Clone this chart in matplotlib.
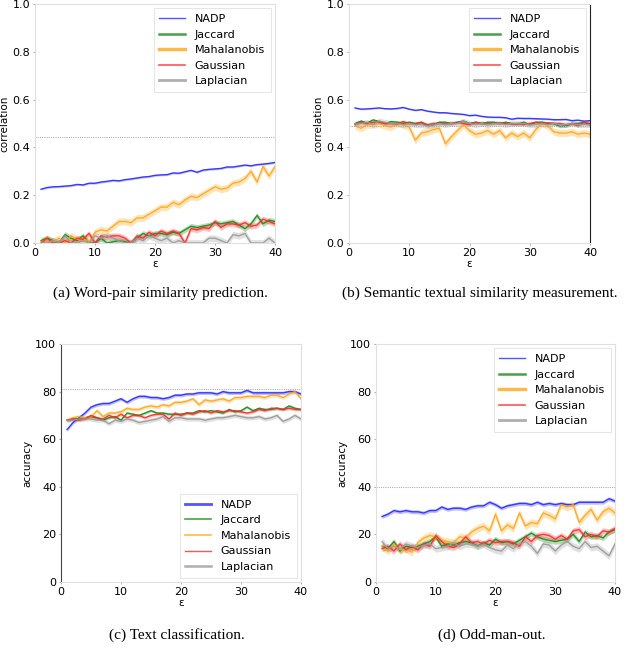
import numpy as np
import matplotlib
matplotlib.use("Agg")
import matplotlib.pyplot as plt
from matplotlib.lines import Line2D

eps = list(range(1, 41))
series_names = ["NADP", "Jaccard", "Mahalanobis", "Gaussian", "Laplacian"]
colors = ["#2a2aff", "#1a8a1a", "#ffa719", "#ff2a2a", "#9a9a9a"]

# (a) word-pair similarity
a_nadp = [.225, .232, .235, .236, .238, .240, .245, .243, .250, .250, .255, .258, .262, .260, .265, .268, .272, .276, .278, .283,
          .285, .286, .293, .292, .298, .304, .296, .305, .308, .310, .312, .318, .318, .322, .326, .323, .328, .330, .333, .337]
a_jac = [.010, .020, .010, .000, .035, .020, .010, .030, .000, .000, .020, .000, .005, .010, .005, .000, .020, .040, .030, .040,
         .040, .035, .045, .040, .055, .070, .065, .070, .075, .085, .080, .085, .090, .075, .060, .080, .115, .080, .095, .090]
a_mah = [.005, .015, .005, .020, .000, .030, .015, .020, .005, .045, .055, .050, .070, .090, .090, .085, .105, .105, .120, .135,
         .150, .150, .170, .160, .180, .195, .190, .205, .220, .235, .225, .230, .250, .255, .270, .300, .255, .320, .280, .320]
a_gau = [.000, .020, .000, .000, .010, .000, .020, .015, .040, .000, .030, .025, .030, .030, .020, .000, .030, .020, .045, .030,
         .050, .040, .050, .040, .000, .060, .055, .065, .060, .090, .065, .080, .080, .075, .085, .070, .075, .100, .090, .080]
a_lap = [.000, .000, .010, .000, .030, .000, .000, .010, .000, .030, .020, .030, .020, .010, .000, .000, .020, .010, .030, .020,
         .010, .020, .000, .010, .000, .000, .000, .000, .020, .020, .010, .000, .035, .030, .040, .000, .000, .000, .020, .000]
a_band = [0.004, 0.012, 0.015, 0.012, 0.014]
a_ref = 0.445

# (b) semantic textual similarity
b_nadp = [.565, .560, .561, .563, .565, .562, .561, .563, .567, .560, .555, .558, .552, .548, .545, .545, .542, .540, .538, .533,
          .535, .530, .527, .526, .526, .524, .518, .522, .521, .521, .520, .519, .518, .516, .516, .517, .512, .514, .510, .512]
b_jac = [.500, .510, .502, .515, .508, .500, .508, .505, .500, .505, .500, .505, .490, .495, .505, .505, .500, .505, .510, .500,
         .505, .500, .505, .505, .500, .505, .500, .498, .505, .495, .505, .505, .500, .500, .488, .490, .500, .500, .505, .495]
b_mah = [.490, .480, .495, .495, .500, .490, .485, .500, .495, .485, .430, .460, .465, .475, .480, .415, .445, .470, .495, .470,
         .455, .460, .470, .455, .470, .440, .460, .445, .460, .440, .475, .500, .490, .465, .460, .460, .465, .455, .460, .455]
b_gau = [.495, .505, .500, .505, .505, .500, .500, .498, .508, .500, .498, .505, .495, .500, .500, .498, .500, .505, .500, .495,
         .505, .500, .498, .500, .502, .500, .498, .500, .495, .500, .505, .500, .503, .500, .500, .495, .500, .490, .505, .500]
b_lap = [.498, .500, .505, .495, .510, .505, .500, .500, .495, .500, .495, .495, .490, .495, .500, .495, .500, .500, .510, .500,
         .495, .500, .495, .500, .500, .495, .500, .500, .500, .495, .495, .500, .495, .500, .495, .495, .500, .495, .495, .495]
b_band = [0.003, 0.006, 0.015, 0.006, 0.012]
b_ref = 0.49

# (c) text classification
c_nadp = [64, 67, 69, 71, 73.5, 74.5, 75, 75, 76, 77, 75.5, 77, 78, 78, 77.5, 77.5, 77, 77.5, 78.5, 78.5,
          79, 79, 79.5, 79.5, 79.5, 79, 80, 79.5, 79.5, 79.5, 80.5, 79.5, 79.5, 79.5, 79.5, 79.5, 79.5, 80, 80, 79]
c_jac = [68, 68.5, 68.5, 69, 69.5, 69, 68, 69, 69.5, 68, 71, 70.5, 70, 71, 72, 71, 71, 70.5, 70.5, 70.5,
         71, 71, 72, 71.5, 72, 71.5, 71, 72.5, 71.5, 72, 73.5, 72, 73, 72.5, 72.5, 73, 72.5, 74, 73, 72.5]
c_mah = [68, 69, 69.5, 69, 69.5, 72, 69.5, 71, 71, 71.5, 73, 72.5, 72.5, 73.5, 74, 73.5, 74.5, 74, 75.5, 75.5,
         76, 77, 74.5, 76.5, 76, 76.5, 77, 76, 77.5, 77.5, 78, 78, 78, 77.5, 78.5, 78.5, 77.5, 79, 80, 77]
c_gau = [68, 68.5, 68, 68.5, 70, 69, 68.5, 70, 69, 70.5, 69, 70, 70, 69, 70, 70.5, 70.5, 68.5, 71, 70,
         71, 70.5, 71.5, 72, 71, 72, 71.5, 72, 72, 71.5, 71, 71.5, 72.5, 72, 73, 73, 72.5, 73, 72.5, 72.5]
c_lap = [68, 68, 68.5, 68.5, 68.5, 68, 68, 66.5, 68, 67.5, 68.5, 68, 67, 67.5, 68, 68.5, 69.5, 67.5, 69, 69,
         68.5, 68.5, 68.5, 68, 68.5, 69, 69, 69.5, 70, 69.5, 69, 69, 69.5, 68.5, 69, 70, 67.5, 68.5, 70, 68.5]
c_band = [0.7, 0.6, 0.8, 0.6, 0.9]
c_ref = 81

# (d) odd-man-out
d_nadp = [27.5, 28.5, 30, 29.5, 30, 29.5, 29.5, 29, 30, 30, 31.5, 30.5, 31, 31, 30.5, 31.5, 32, 32, 33.5, 32.5,
          31, 32, 32.5, 33, 33, 32.5, 33.5, 32.5, 33, 32.5, 33, 32.5, 32.5, 33.5, 33.5, 33.5, 33.5, 33.5, 35, 34]
d_jac = [15, 14, 17, 13, 15, 14.5, 15, 16, 17, 19, 15, 16, 15.5, 16.5, 17, 16.5, 15, 16.5, 15.5, 18,
         16.5, 17, 16, 17.5, 19, 20.5, 19, 18, 17.5, 17, 17.5, 18, 20, 17, 21, 19, 19.5, 18.5, 21, 22]
d_mah = [15, 13, 16, 13.5, 14, 12.5, 16.5, 18.5, 19.5, 19, 17.5, 17, 16.5, 19, 18.5, 21, 22.5, 23.5, 21.5, 28.5,
         21.5, 24, 22.5, 29, 23.5, 25, 24.5, 29, 28, 26.5, 32.5, 31.5, 32.5, 25, 28, 30.5, 26, 29.5, 31, 29]
d_gau = [14, 15, 13, 16, 13.5, 15, 13.5, 16, 15, 19.5, 17, 15, 14.5, 16, 19, 16.5, 17, 16, 17.5, 16.5,
         17, 17, 16.5, 15, 19, 17, 19.5, 20, 19.5, 18, 19.5, 18, 21.5, 22, 19, 20, 19, 21.5, 21, 22.5]
d_lap = [17, 14, 15, 14, 16, 15, 14.5, 15.5, 16, 14, 14.5, 15, 16.5, 15, 16, 16, 15, 16, 14.5, 13.5,
         13, 15.5, 14, 16, 17, 15, 12, 16, 15.5, 13, 15.5, 17, 15, 14, 17, 14.5, 15, 13, 11, 16]
d_band = [0.8, 1.2, 1.6, 1.3, 1.5]
d_ref = 40

panels = [
    dict(data=[a_nadp, a_jac, a_mah, a_gau, a_lap], band=a_band, ref=a_ref, ylim=(0, 1.0),
         yticks=[0, 0.2, 0.4, 0.6, 0.8, 1.0], yfmt="{:.1f}", ylabel="correlation",
         rect=[0.0547, 0.6335, 0.375, 0.3605], caption="(a) Word-pair similarity prediction.",
         cap_xy=(0.25, 0.558), leg_loc="upper right", leg_lw=[1.0, 1.8, 2.4, 1.2, 2.0]),
    dict(data=[b_nadp, b_jac, b_mah, b_gau, b_lap], band=b_band, ref=b_ref, ylim=(0, 1.0),
         yticks=[0, 0.2, 0.4, 0.6, 0.8, 1.0], yfmt="{:.1f}", ylabel="correlation",
         rect=[0.5453, 0.6335, 0.3766, 0.3605], caption="(b) Semantic textual similarity measurement.",
         cap_xy=(0.75, 0.558), leg_loc="upper right", leg_lw=[1.0, 1.8, 2.4, 1.2, 2.0]),
    dict(data=[c_nadp, c_jac, c_mah, c_gau, c_lap], band=c_band, ref=c_ref, ylim=(0, 100),
         yticks=[0, 20, 40, 60, 80, 100], yfmt="{:d}", ylabel="accuracy",
         rect=[0.0953, 0.1222, 0.375, 0.3589], caption="(c) Text classification.",
         cap_xy=(0.276, 0.042), leg_loc="lower right", leg_lw=[2.0, 1.2, 1.2, 1.0, 1.8]),
    dict(data=[d_nadp, d_jac, d_mah, d_gau, d_lap], band=d_band, ref=d_ref, ylim=(0, 100),
         yticks=[0, 20, 40, 60, 80, 100], yfmt="{:d}", ylabel="accuracy",
         rect=[0.5875, 0.1222, 0.3734, 0.3589], caption="(d) Odd-man-out.",
         cap_xy=(0.768, 0.042), leg_loc="upper right", leg_lw=[1.0, 1.8, 2.4, 1.2, 2.0]),
]

fig = plt.figure(figsize=(6.4, 6.63), dpi=100)
x = np.array(eps)
for i, p in enumerate(panels):
    ax = fig.add_axes(p["rect"])
    for k, (name, col) in enumerate(zip(series_names, colors)):
        y = np.array(p["data"][k], dtype=float)
        bw = p["band"][k]
        ax.fill_between(x, y - bw, y + bw, color=col, alpha=0.3, linewidth=0)
        ax.plot(x, y, color=col, lw=1.0, alpha=0.9, label=name)
    ax.axhline(p["ref"], color="#b0b0b0", lw=0.8, ls=(0, (1, 1)))
    ax.set_xlim(0, 40)
    ax.set_ylim(*p["ylim"])
    ax.set_xticks([0, 10, 20, 30, 40])
    ax.set_yticks(p["yticks"])
    ax.set_yticklabels([p["yfmt"].format(v) for v in p["yticks"]])
    ax.tick_params(labelsize=8, length=1.5, width=0.5, color="#888888", pad=2)
    for s in ax.spines.values():
        s.set_color("#e0e0e0")
        s.set_linewidth(0.8)
    if i == 1:
        ax.spines["right"].set_color("#222222")
    if i == 2:
        ax.spines["left"].set_color("#444444")
    ax.set_ylabel(p["ylabel"], fontsize=7.5, labelpad=2)
    ax.set_xlabel("ε", fontsize=7.5, labelpad=1)
    leg_handles = [Line2D([], [], color=c, lw=lw, alpha=0.8) for c, lw in zip(colors, p["leg_lw"])]
    leg = ax.legend(leg_handles, series_names, loc=p["leg_loc"], fontsize=8, frameon=True,
                    fancybox=False, edgecolor="#e6e6e6", framealpha=1.0, borderpad=0.5,
                    labelspacing=0.5, handlelength=2.3, handletextpad=0.9, borderaxespad=0.4)
    leg.get_frame().set_linewidth(0.8)
    fig.text(p["cap_xy"][0], p["cap_xy"][1], p["caption"], ha="center", va="center",
             fontsize=11, family="Liberation Serif")

fig.savefig("out.png", dpi=100)
